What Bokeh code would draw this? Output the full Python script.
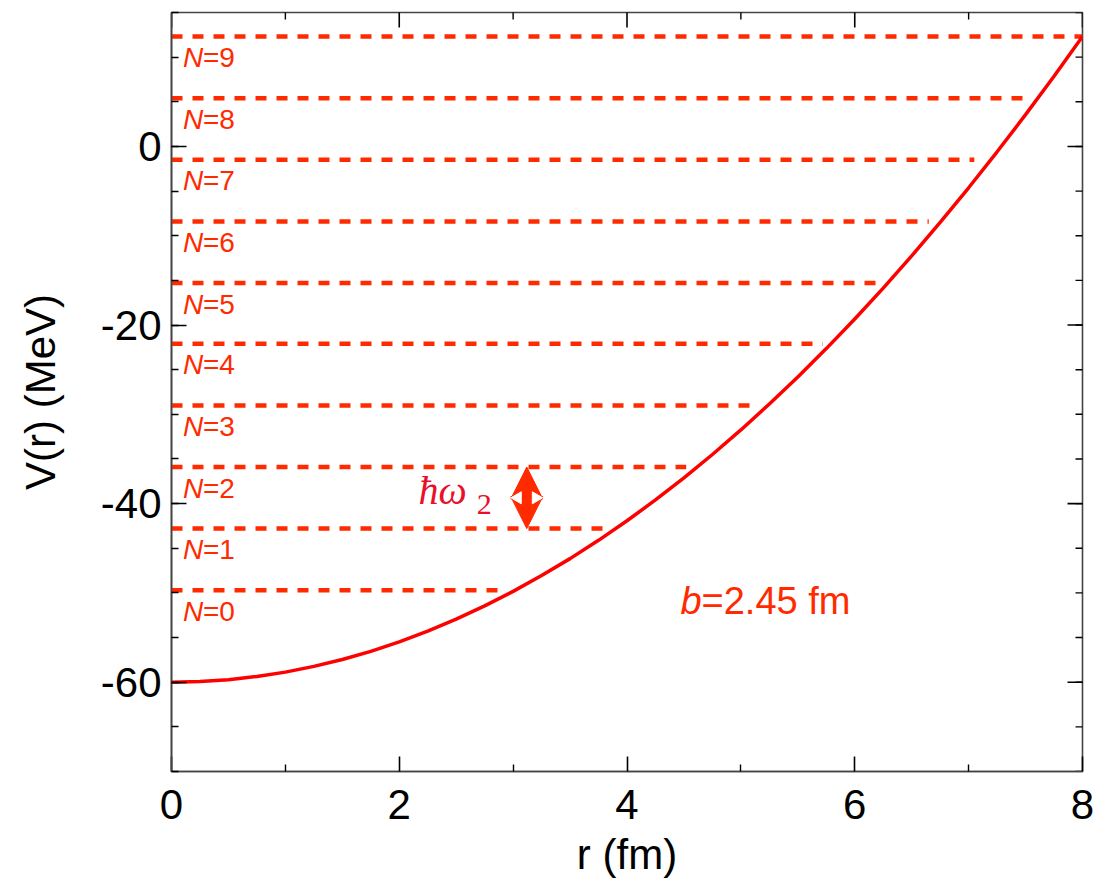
import numpy as np
from bokeh.plotting import figure
from bokeh.models import (LinearAxis, FixedTicker, Range1d, Arrow,
                          NormalHead, ColumnDataSource)
from bokeh.core.properties import value
from bokeh.embed import file_html
from bokeh.resources import INLINE

# ---------------- data ----------------
r_curve = [0.0, 0.25, 0.5, 0.75, 1.0, 1.25, 1.5, 1.75, 2.0, 2.25, 2.5, 2.75,
           3.0, 3.25, 3.5, 3.75, 4.0, 4.25, 4.5, 4.75, 5.0, 5.25, 5.5, 5.75,
           6.0, 6.25, 6.5, 6.75, 7.0, 7.25, 7.5, 7.75, 8.0]
V_curve = [-60.0, -59.93, -59.72, -59.36, -58.87, -58.23, -57.46, -56.54,
           -55.48, -54.28, -52.94, -51.45, -49.83, -48.06, -46.16, -44.11,
           -41.92, -39.59, -37.12, -34.50, -31.75, -28.85, -25.82, -22.64,
           -19.32, -15.86, -12.26, -8.51, -4.63, -0.60, 3.56, 7.87, 12.32]

N_levels = [0, 1, 2, 3, 4, 5, 6, 7, 8, 9]
E_levels = [-49.7, -42.8, -35.9, -29.0, -22.1, -15.3, -8.4, -1.5, 5.4, 12.3]
r_levels_end = [2.95, 3.83, 4.52, 5.12, 5.72, 6.22, 6.65, 7.05, 7.55, 8.0]

b_value = 2.45
x_ticks = [0, 2, 4, 6, 8]
x_minor = [1, 3, 5, 7]
y_ticks = [-60, -40, -20, 0]
y_minor = list(range(-70, 16, 5))
x_label = "r (fm)"
y_label = "V(r) (MeV)"

# ---------------- styling ----------------
FONT = "Liberation Sans"
LEVEL_COLOR = "#FF2A00"
CURVE_COLOR = "#FF0000"
HW_COLOR = "#E8102A"
X0, X1, Y0, Y1 = 0, 8, -70, 15

p = figure(width=1094, height=894, x_range=Range1d(X0, X1), y_range=Range1d(Y0, Y1),
           output_backend="svg", toolbar_location=None,
           min_border_left=171, min_border_top=12, min_border_right=12,
           min_border_bottom=123, x_axis_location=None, y_axis_location=None)
p.grid.visible = False
p.outline_line_color = "#444444"
p.outline_line_width = 1.6
p.background_fill_color = "white"
p.border_fill_color = "white"


def style_axis(ax):
    ax.axis_line_color = "#444444"
    ax.axis_line_width = 1.6
    ax.major_tick_line_color = "black"
    ax.minor_tick_line_color = "black"
    ax.major_tick_line_width = 1.6
    ax.minor_tick_line_width = 1.4
    ax.major_tick_in = 15
    ax.major_tick_out = 0
    ax.minor_tick_in = 7
    ax.minor_tick_out = 0
    ax.major_label_text_font = FONT
    ax.major_label_text_font_size = "42px"
    ax.major_label_text_color = "black"
    ax.axis_label_text_font = FONT
    ax.axis_label_text_font_size = "42px"
    ax.axis_label_text_font_style = "normal"
    ax.axis_label_text_color = "black"
    ax.major_label_overrides = {t: str(t) for t in (x_ticks + y_ticks) if t < 0}


xb = LinearAxis(ticker=FixedTicker(ticks=x_ticks, minor_ticks=x_minor), axis_label=x_label)
style_axis(xb)
xb.major_label_standoff = 18
xb.axis_label_standoff = 9
p.add_layout(xb, "below")

yl = LinearAxis(ticker=FixedTicker(ticks=y_ticks, minor_ticks=y_minor), axis_label=y_label)
style_axis(yl)
yl.major_label_standoff = 10
yl.axis_label_standoff = 34
p.add_layout(yl, "left")

# mirrored inward ticks on top and right (clipped to the frame, so only the inner half shows)
p.scatter(x_ticks, [Y1] * len(x_ticks), marker="dash", size=30, angle=np.pi / 2,
          line_color="black", line_width=1.6)
p.scatter(x_minor, [Y1] * len(x_minor), marker="dash", size=14, angle=np.pi / 2,
          line_color="black", line_width=1.4)
p.scatter([X1] * len(y_ticks), y_ticks, marker="dash", size=30,
          line_color="black", line_width=1.6)
p.scatter([X1] * len(y_minor), y_minor, marker="dash", size=14,
          line_color="black", line_width=1.4)

# ---------------- levels ----------------
lev = ColumnDataSource(dict(
    x0=[0.0] * len(E_levels), x1=r_levels_end, y=E_levels,
    n_txt=["N"] * len(N_levels), eq_txt=[f"={n}" for n in N_levels],
    xl=[0.1] * len(E_levels)))
p.segment(x0="x0", y0="y", x1="x1", y1="y", source=lev, line_color=LEVEL_COLOR,
          line_width=4.5, line_dash="11 10")

p.text(x="xl", y="y", text="n_txt", source=lev, y_offset=21,
       text_font=value(FONT), text_font_style="italic", text_font_size="28px",
       text_color=LEVEL_COLOR, text_baseline="alphabetic", text_align="left")
p.text(x="xl", y="y", text="eq_txt", source=lev, y_offset=21, x_offset=20,
       text_font=value(FONT), text_font_size="28px",
       text_color=LEVEL_COLOR, text_baseline="alphabetic", text_align="left")

# ---------------- potential ----------------
p.line(r_curve, V_curve, line_color=CURVE_COLOR, line_width=3.5)

# ---------------- hbar omega arrow ----------------
arrow_r = 3.12
p.add_layout(Arrow(x_start=arrow_r, y_start=E_levels[1], x_end=arrow_r, y_end=E_levels[2],
                   start=NormalHead(size=32, fill_color=LEVEL_COLOR, line_color=LEVEL_COLOR, line_width=1),
                   end=NormalHead(size=32, fill_color=LEVEL_COLOR, line_color=LEVEL_COLOR, line_width=1),
                   line_color=LEVEL_COLOR, line_width=1))
mid = (E_levels[1] + E_levels[2]) / 2
dx = 9 / 113.9
wt = p.scatter([arrow_r - dx, arrow_r + dx], [mid, mid], marker="triangle", size=12,
               fill_color="white", line_color="white", angle=[np.pi / 2, -np.pi / 2])
wt.level = "overlay"

p.text(x=[2.17], y=[mid], text=["ħω"], text_font=value("Liberation Serif"),
       text_font_style="italic", text_font_size="40px", text_color=HW_COLOR,
       text_baseline="alphabetic", y_offset=-7)
p.text(x=[2.68], y=[mid], text=["2"], text_font=value("Liberation Serif"),
       text_font_size="30px", text_color=HW_COLOR,
       text_baseline="alphabetic", y_offset=7)

# ---------------- b label ----------------
p.text(x=[4.47], y=[-52.2], text=["b"], text_font=value(FONT), text_font_style="italic",
       text_font_size="38px", text_color=LEVEL_COLOR, text_baseline="alphabetic",
       y_offset=-12)
p.text(x=[4.47], y=[-52.2], text=[f"={b_value} fm"], text_font=value(FONT),
       text_font_size="38px", text_color=LEVEL_COLOR, text_baseline="alphabetic",
       x_offset=21, y_offset=-12)

open("out.html", "w").write(file_html(p, INLINE))
